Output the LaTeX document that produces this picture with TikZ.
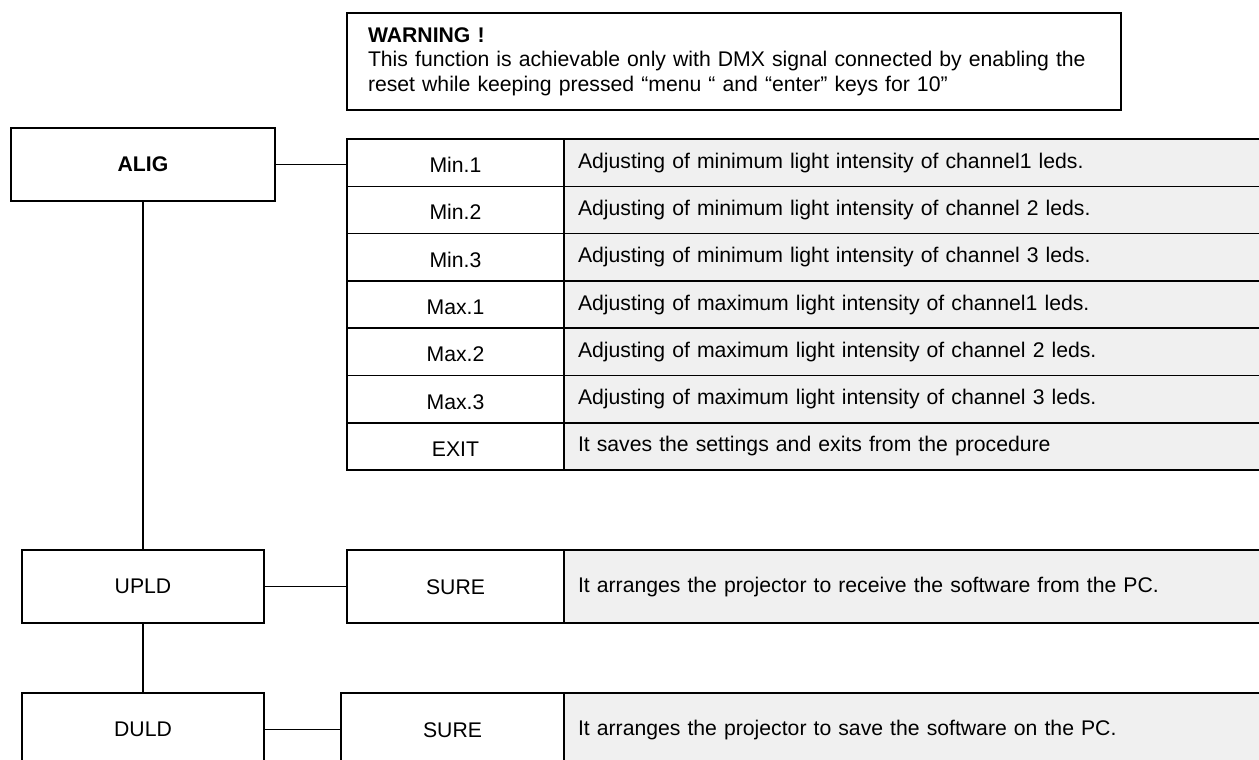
\documentclass[tikz,border=0pt]{standalone}
\usepackage{fontspec}
\setmainfont{Liberation Sans}
\usetikzlibrary{positioning}
\definecolor{cellgray}{HTML}{F0F0F0}

\begin{document}
\begin{tikzpicture}[x=1pt,y=-1pt,line width=1.5pt,
  txt/.style={font=\fontsize{21.2}{24.5}\selectfont},
  menubox/.style={rectangle,draw,txt,minimum width=242pt,minimum height=73pt,outer sep=0pt},
  keycell/.style={rectangle,draw,txt,minimum width=217pt,minimum height=47.3pt,inner sep=0pt,outer sep=0pt,text height=20pt,text depth=0pt},
  desccell/.style={rectangle,draw,fill=cellgray,txt,text width=682pt,inner xsep=14pt,inner ysep=0pt,minimum height=47.3pt,outer sep=0pt,align=left,text height=15.5pt,text depth=4.5pt},
  surebox/.style={keycell,minimum height=73pt,text height=15.5pt},
  answerbox/.style={desccell,minimum height=73pt}]

  \useasboundingbox (0,0) rectangle (1259,760);
  \clip (0,0) rectangle (1259,760);

  % Hinweis oben
  \node[rectangle,draw,txt,anchor=north west,text width=732pt,inner xsep=21pt,inner ysep=0pt,minimum height=97pt,align=left,outer sep=0pt] (warn) at (347,13)
   {\textbf{WARNING !}\\
    This function is achievable only with DMX signal connected by enabling the\\
    reset while keeping pressed “menu “ and “enter” keys for 10”};

  % Menue links
  \node[menubox,minimum width=264pt,font=\fontsize{21.2}{24.5}\selectfont\bfseries] (ALIG) at (143,164.5) {ALIG};
  \node[menubox] (UPLD) at (143,586.5) {UPLD};
  \node[menubox] (DULD) at (143,729.5) {DULD};

  % Tabelle ALIG
  \node[keycell] (min1) at (455.5,162.65) {Min.1};
  \node[keycell] (min2) [below=0pt of min1] {Min.2};
  \node[keycell] (min3) [below=0pt of min2] {Min.3};
  \node[keycell] (max1) [below=0pt of min3] {Max.1};
  \node[keycell] (max2) [below=0pt of max1] {Max.2};
  \node[keycell] (max3) [below=0pt of max2] {Max.3};
  \node[keycell] (exit) [below=0pt of max3] {EXIT};

  \node[desccell] (dmin1) [right=0pt of min1] {Adjusting of minimum light intensity of channel1 leds.};
  \node[desccell] (dmin2) [right=0pt of min2] {Adjusting of minimum light intensity of channel 2 leds.};
  \node[desccell] (dmin3) [right=0pt of min3] {Adjusting of minimum light intensity of channel 3 leds.};
  \node[desccell] (dmax1) [right=0pt of max1] {Adjusting of maximum light intensity of channel1 leds.};
  \node[desccell] (dmax2) [right=0pt of max2] {Adjusting of maximum light intensity of channel 2 leds.};
  \node[desccell] (dmax3) [right=0pt of max3] {Adjusting of maximum light intensity of channel 3 leds.};
  \node[desccell] (dexit) [right=0pt of exit] {It saves the settings and exits from the procedure};

  % UPLD / DULD
  \node[surebox] (sure1) at (455.5,586.5) {SURE};
  \node[answerbox] (dsure1) [right=0pt of sure1] {It arranges the projector to receive the software from the PC.};
  \node[surebox,minimum width=223pt] (sure2) at (452.5,729.5) {SURE};
  \node[answerbox] (dsure2) [right=0pt of sure2] {It arranges the projector to save the software on the PC.};

  % Verbindungen
  \draw (ALIG.east) -- (ALIG.east -| min1.west);
  \draw (UPLD.east) -- (UPLD.east -| sure1.west);
  \draw (DULD.east) -- (DULD.east -| sure2.west);
  \draw (ALIG.south) -- (UPLD.north);
  \draw (UPLD.south) -- (DULD.north);

\end{tikzpicture}
\end{document}
